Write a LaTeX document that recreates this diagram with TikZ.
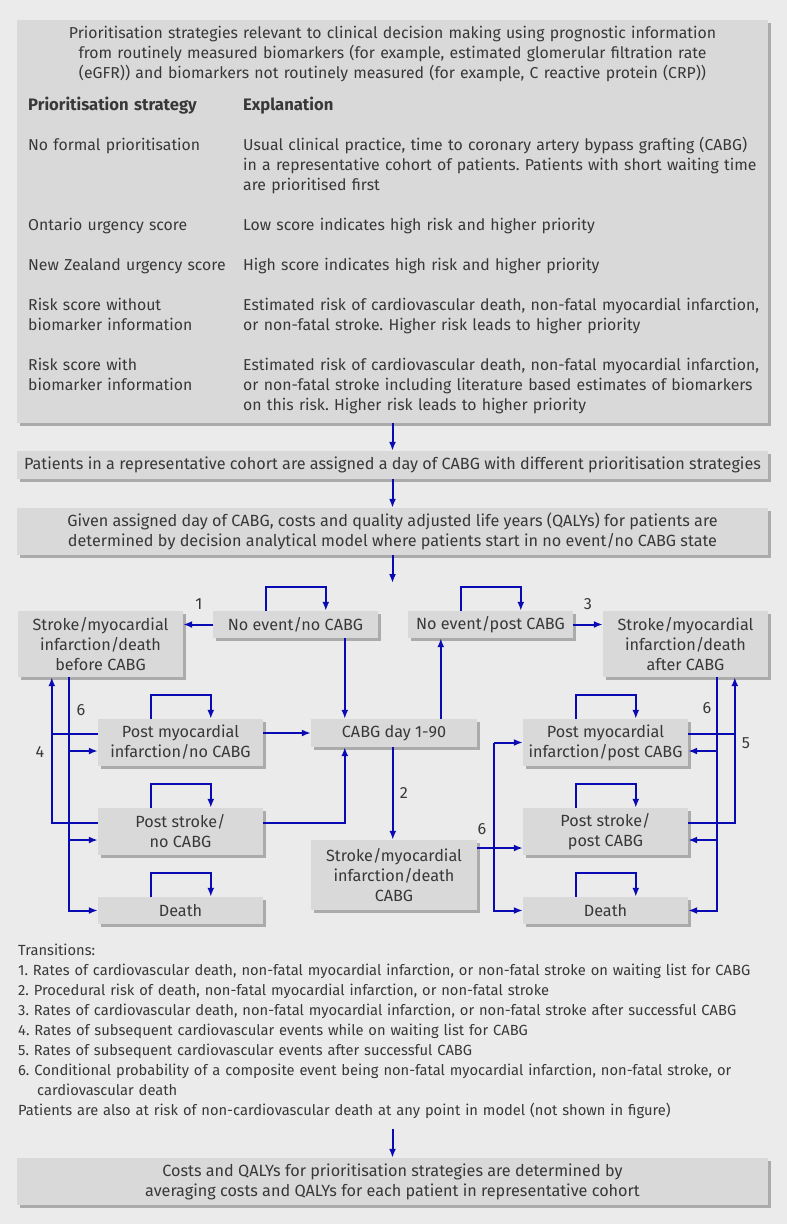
\documentclass[tikz,border=0pt]{standalone}
\usepackage{fontspec}
\setmainfont{Fira Sans}
\usetikzlibrary{arrows.meta,shadows}
\definecolor{bgc}{HTML}{EBEBEB}
\definecolor{boxc}{HTML}{D9D9D9}
\definecolor{shadc}{HTML}{ABABAB}
\definecolor{arrc}{HTML}{0A0AB4}
\definecolor{txtc}{HTML}{383838}
\newcommand\selfloop[1]{\draw[arr] ([xshift=53pt]#1.north west) -- ++(0,-24) -| ([xshift=113pt]#1.north west);}
\begin{document}
\begin{tikzpicture}[x=1pt,y=-1pt,
  every node/.style={text=txtc, font=\fontsize{16.2}{20}\selectfont\frenchspacing},
  box/.style={fill=boxc, inner sep=0pt, align=center,
    general shadow={fill=shadc, shadow xshift=3pt, shadow yshift=-3pt}},
  sbox/.style={box, minimum width=165pt},
  txt/.style={inner sep=0pt, anchor=base west, align=left, text width=#1,
    font=\fontsize{15.8}{20}\selectfont\frenchspacing},
  txt/.default=560pt,
  hd/.style={txt=#1, font=\fontsize{16.6}{20}\selectfont\bfseries},
  leg/.style={txt=#1, font=\fontsize{14.7}{20}\selectfont\frenchspacing},
  lbl/.style={inner sep=0pt},
  arr/.style={draw=arrc, line width=2pt, -{Latex[length=9pt,width=7pt]}},
  ln/.style={draw=arrc, line width=2pt}]
\fill[bgc] (0,0) rectangle (787,1224);
\useasboundingbox (0,0) rectangle (787,1224);

% ---------- top boxes
\node[box, minimum width=751pt, minimum height=403pt] (B1) at (392.5,221.5) {};
\node[inner sep=0pt, anchor=base, align=center, text width=751pt,
  font=\fontsize{15.8}{20}\selectfont\frenchspacing] (title) at (392.5,38)
 {Prioritisation strategies relevant to clinical decision making using prognostic information\\
  from routinely measured biomarkers (for example, estimated glomerular filtration rate\\
  (eGFR)) and biomarkers not routinely measured (for example, C reactive protein (CRP))};
\node[hd=200pt] (h1) at (28,110) {Prioritisation strategy};
\node[hd=300pt] (h2) at (243,110) {Explanation};
\node[txt=210pt] (r1a) at (28,150) {No formal prioritisation};
\node[txt] (r1b) at (243,150) {Usual clinical practice, time to coronary artery bypass grafting (CABG)\\in a representative cohort of patients. Patients with short waiting time\\are prioritised first};
\node[txt=210pt] (r2a) at (28,230) {Ontario urgency score};
\node[txt] (r2b) at (243,230) {Low score indicates high risk and higher priority};
\node[txt=215pt] (r3a) at (28,270) {New Zealand urgency score};
\node[txt] (r3b) at (243,270) {High score indicates high risk and higher priority};
\node[txt=210pt] (r4a) at (28,310) {Risk score without\\biomarker information};
\node[txt] (r4b) at (243,310) {Estimated risk of cardiovascular death, non-fatal myocardial infarction,\\or non-fatal stroke. Higher risk leads to higher priority};
\node[txt=210pt] (r5a) at (28,370) {Risk score with\\biomarker information};
\node[txt] (r5b) at (243,370) {Estimated risk of cardiovascular death, non-fatal myocardial infarction,\\or non-fatal stroke including literature based estimates of biomarkers\\on this risk. Higher risk leads to higher priority};

\node[box, minimum width=751pt, minimum height=28pt] (B2) at (392.5,465)
 {Patients in a representative cohort are assigned a day of CABG with different prioritisation strategies};
\node[box, minimum width=751pt, minimum height=47pt] (B3) at (392.5,531.5)
 {Given assigned day of CABG, costs and quality adjusted life years (QALYs) for patients are\\
  determined by decision analytical model where patients start in no event/no CABG state};
\coordinate (dtop) at (392.5,583);
\draw[arr] (B1.south) -- (B2.north);
\draw[arr] (B2.south) -- (B3.north);
\draw[arr] (B3.south) -- (dtop);

% ---------- state boxes
\node[sbox, minimum height=66pt] (SB) at (100.5,644) {Stroke/myocardial\\infarction/death\\before CABG};
\node[sbox, minimum height=27pt] (NE) at (295.5,624.5) {No event/no CABG};
\node[sbox, minimum height=27pt] (NEP) at (490.5,624.5) {No event/post CABG};
\node[sbox, minimum height=66pt] (SA) at (685.5,644) {Stroke/myocardial\\infarction/death\\after CABG};
\node[box, minimum width=166pt, minimum height=28pt] (CD) at (394,733) {CABG day 1-90};
\node[sbox, minimum height=47pt] (PMI) at (180.5,742.5) {Post myocardial\\infarction/no CABG};
\node[sbox, minimum height=47pt] (PMIP) at (605.5,742.5) {Post myocardial\\infarction/post CABG};
\node[sbox, minimum height=47pt] (PS) at (180.5,831.5) {Post stroke/\\no CABG};
\node[sbox, minimum height=47pt] (PSP) at (605.5,831.5) {Post stroke/\\post CABG};
\node[box, minimum width=166pt, minimum height=70pt] (SC) at (394,875) {Stroke/myocardial\\infarction/death\\CABG};
\node[sbox, minimum height=27pt] (D) at (180.5,910.5) {Death};
\node[sbox, minimum height=27pt] (DP) at (605.5,910.5) {Death};

% self loops
\selfloop{NE}
\selfloop{NEP}
\selfloop{PMI}
\selfloop{PMIP}
\selfloop{PS}
\selfloop{PSP}
\selfloop{D}
\selfloop{DP}

% main transitions
\draw[arr] (NE.west) -- (NE.west -| SB.east);
\draw[arr] (NEP.east) -- (NEP.east -| SA.west);
\draw[arr] ([xshift=132pt]NE.south west) -- ([xshift=34pt]CD.north west);
\draw[arr] ([xshift=130pt]CD.north west) -- ([xshift=33pt]NEP.south west);
\draw[arr] (PMI.east |- CD.west) -- (CD.west);
\draw[arr] ([yshift=8.5pt]PS.east) -| ([xshift=34pt]CD.south west);
\draw[arr] ([xshift=82pt]CD.south west) -- ([xshift=82pt]SC.north west);

% left side: 4 and 6
\coordinate (pmiOut) at ([yshift=8.5pt]PMI.west);
\coordinate (pmiIn) at ([yshift=-8.5pt]PMI.west);
\coordinate (psOut) at ([yshift=8.5pt]PS.west);
\coordinate (psIn) at ([yshift=-8.5pt]PS.west);
\coordinate (L4) at ([xshift=34pt]SB.south west);
\coordinate (L6) at ([xshift=51pt]SB.south west);
\draw[arr] (psOut) -| (L4);
\draw[ln] (pmiOut) -- (pmiOut -| L4);
\draw[arr] (L6) |- (D.west);
\draw[arr] (pmiIn -| L6) -- (pmiIn);
\draw[arr] (psIn -| L6) -- (psIn);

% right side: 5 and 6
\coordinate (pmipOut) at ([yshift=8.5pt]PMIP.east);
\coordinate (pmipIn) at ([yshift=-8.5pt]PMIP.east);
\coordinate (pspOut) at ([yshift=8.5pt]PSP.east);
\coordinate (pspIn) at ([yshift=-8.5pt]PSP.east);
\coordinate (R5) at ([xshift=132pt]SA.south west);
\coordinate (R6) at ([xshift=114pt]SA.south west);
\draw[arr] (pspOut) -| (R5);
\draw[ln] (pmipOut) -- (pmipOut -| R5);
\draw[arr] (R6) |- (DP.east);
\draw[arr] (pmipIn -| R6) -- (pmipIn);
\draw[arr] (pspIn -| R6) -- (pspIn);

% middle 6
\coordinate (scOut) at ([yshift=27pt]SC.east);
\coordinate (M6) at (494,0);
\draw[arr] (scOut) -- (scOut -| PSP.west);
\draw[arr] (PMIP.west -| M6) -- (PMIP.west);
\draw[arr] (PMIP.west -| M6) |- (DP.west);

% labels
\node[lbl] (n1) at (199,604) {1};
\node[lbl] (n3) at (588,604) {3};
\node[lbl] (n2) at (404,793) {2};
\node[lbl] (n4) at (40,752) {4};
\node[lbl] (n6a) at (81,710) {6};
\node[lbl] (n6b) at (707,708) {6};
\node[lbl] (n5) at (746,743) {5};
\node[lbl] (n6c) at (482,829) {6};

% ---------- transitions legend
\node[leg=760pt] (legend) at (18,955)
 {Transitions:\\
  1. Rates of cardiovascular death, non-fatal myocardial infarction, or non-fatal stroke on waiting list for CABG\\
  2. Procedural risk of death, non-fatal myocardial infarction, or non-fatal stroke\\
  3. Rates of cardiovascular death, non-fatal myocardial infarction, or non-fatal stroke after successful CABG\\
  4. Rates of subsequent cardiovascular events while on waiting list for CABG\\
  5. Rates of subsequent cardiovascular events after successful CABG\\
  6. Conditional probability of a composite event being non-fatal myocardial infarction, non-fatal stroke, or\\
  \hspace*{19pt}cardiovascular death\\
  Patients are also at risk of non-cardiovascular death at any point in model (not shown in figure)};

\coordinate (ltop) at (392.5,1129);
\node[box, minimum width=751pt, minimum height=47pt] (B4) at (392.5,1181.5)
 {Costs and QALYs for prioritisation strategies are determined by\\
  averaging costs and QALYs for each patient in representative cohort};
\draw[arr] (ltop) -- (B4.north);
\end{tikzpicture}
\end{document}
